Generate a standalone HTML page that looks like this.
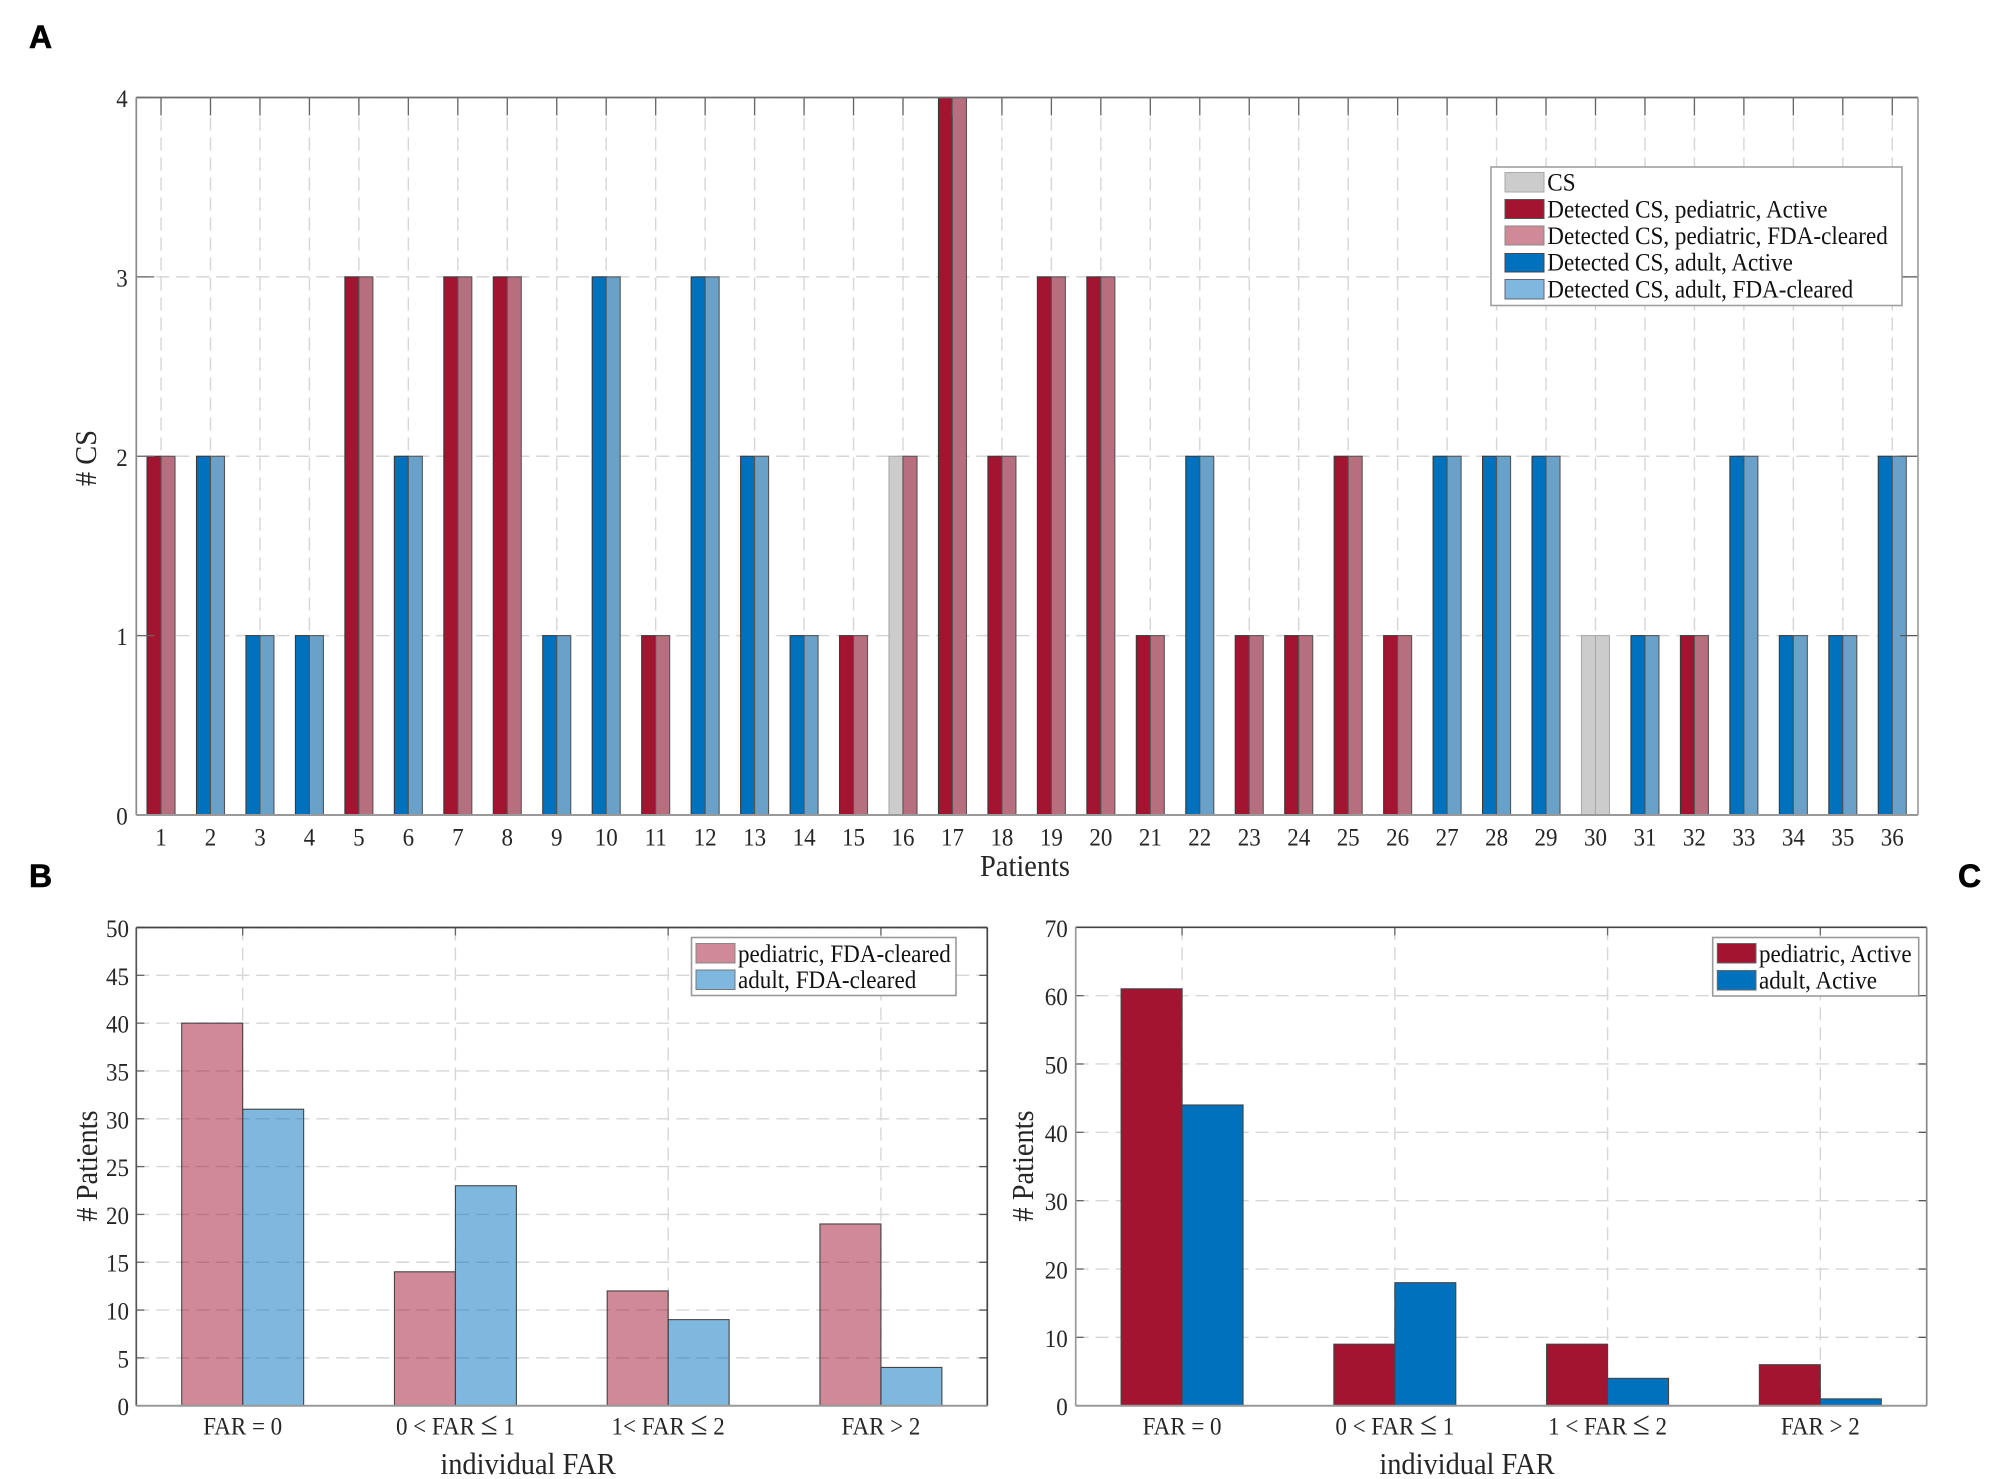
<!DOCTYPE html>
<html lang="en">
<head>
<meta charset="utf-8">
<title>CS detection per patient and individual FAR</title>
<style>
html,body{margin:0;padding:0;background:#fff;}
svg{display:block;font-family:"Liberation Serif","Times New Roman",serif;}
.tk{fill:#262626;font-size:23px;}
.ttl{fill:#262626;font-size:28.4px;text-anchor:middle;}
.lg{fill:#111;font-size:23.1px;}
.letter{font-family:"Liberation Sans",Arial,sans-serif;font-weight:bold;font-size:32px;fill:#000;stroke:#000;stroke-width:.6px;}
</style>
</head>
<body>
<svg id="fig" width="2008" height="1479" viewBox="0 0 2008 1479" xmlns="http://www.w3.org/2000/svg">
  <rect x="0" y="0" width="2008" height="1479" fill="#fff"/>
  <g id="panelA"></g>
  <g id="panelB"></g>
  <g id="panelC"></g>

  <text class="letter" x="29" y="48">A</text>
  <text class="letter" x="29" y="887">B</text>
  <text class="letter" x="1958" y="887">C</text>

  <text class="ttl" transform="translate(96,458) rotate(-90) scale(1,1.08)"># CS</text>
  <text class="ttl" transform="translate(1025,876) scale(1,1.08)">Patients</text>
  <text class="ttl" transform="translate(97,1166) rotate(-90) scale(1,1.08)"># Patients</text>
  <text class="ttl" transform="translate(528,1474) scale(1,1.08)">individual FAR</text>
  <text class="ttl" transform="translate(1033,1166) rotate(-90) scale(1,1.08)"># Patients</text>
  <text class="ttl" transform="translate(1467,1474) scale(1,1.08)">individual FAR</text>

  <g>
    <rect x="1491" y="167" width="411" height="138.5" fill="#fff" stroke="#a0a0a0" stroke-width="1.6"/>
    <rect x="1505" y="172.5" width="39" height="19.5" fill="#cccccc" stroke="#aaa"/>
    <text class="lg" transform="translate(1547.3,190.7) scale(1,1.08)">CS</text>
    <rect x="1505" y="199.5" width="39" height="19" fill="#A2142F" stroke="#555"/>
    <text class="lg" transform="translate(1547.3,217.6) scale(1,1.08)">Detected CS, pediatric, Active</text>
    <rect x="1505" y="226" width="39" height="19" fill="#D08997" stroke="#888"/>
    <text class="lg" transform="translate(1547.3,243.8) scale(1,1.08)">Detected CS, pediatric, FDA-cleared</text>
    <rect x="1505" y="253.5" width="39" height="18.5" fill="#0072BD" stroke="#445"/>
    <text class="lg" transform="translate(1547.3,270.5) scale(1,1.08)">Detected CS, adult, Active</text>
    <rect x="1505" y="279.5" width="39" height="19.5" fill="#7FB8DE" stroke="#667"/>
    <text class="lg" transform="translate(1547.3,297.7) scale(1,1.08)">Detected CS, adult, FDA-cleared</text>
  </g>

  <g>
    <rect x="691.5" y="937.5" width="264.5" height="58" fill="#fff" stroke="#9a9a9a" stroke-width="1.6"/>
    <rect x="696" y="943.5" width="39" height="19.5" fill="#D08997" stroke="#888"/>
    <text class="lg" transform="translate(738,962) scale(1,1.08)">pediatric, FDA-cleared</text>
    <rect x="696" y="970" width="39" height="19.5" fill="#7FB8DE" stroke="#777"/>
    <text class="lg" transform="translate(738,988) scale(1,1.08)">adult, FDA-cleared</text>
  </g>

  <g>
    <rect x="1712.7" y="937.5" width="206" height="58.5" fill="#fff" stroke="#9a9a9a" stroke-width="1.6"/>
    <rect x="1717.3" y="943.5" width="38.7" height="19.5" fill="#A2142F" stroke="#666"/>
    <text class="lg" transform="translate(1759,962) scale(1,1.08)">pediatric, Active</text>
    <rect x="1717.3" y="970.5" width="38.7" height="19.5" fill="#0072BD" stroke="#666"/>
    <text class="lg" transform="translate(1759,988.3) scale(1,1.08)">adult, Active</text>
  </g>
</svg>

<script>
// ---- Panel A data ----
const patients = [1,2,3,4,5,6,7,8,9,10,11,12,13,14,15,16,17,18,19,20,21,22,23,24,25,26,27,28,29,30,31,32,33,34,35,36];
const patientGroup = ['p','a','a','a','p','a','p','p','a','a','p','a','a','a','p','p','p','p','p','p','p','a','p','p','p','p','a','a','a','a','a','p','a','a','a','a'];
const totalCS = [2,2,1,1,3,2,3,3,1,3,1,3,2,1,1,2,4,2,3,3,1,2,1,1,2,1,2,2,2,1,1,1,2,1,1,2];
const detectedActive = [2,2,1,1,3,2,3,3,1,3,1,3,2,1,1,0,4,2,3,3,1,2,1,1,2,1,2,2,2,0,1,1,2,1,1,2];
const detectedFDA = [2,2,1,1,3,2,3,3,1,3,1,3,2,1,1,2,4,2,3,3,1,2,1,1,2,1,2,2,2,0,1,1,2,1,1,2];
const ticksA = [0,1,2,3,4];

// ---- Panel B data ----
const categoriesB = ['FAR = 0','0 < FAR ≤ 1','1< FAR ≤ 2','FAR > 2'];
const pediatricFDA = [40,14,12,19];
const adultFDA = [31,23,9,4];
const ticksB = [0,5,10,15,20,25,30,35,40,45,50];

// ---- Panel C data ----
const categoriesC = ['FAR = 0','0 < FAR ≤ 1','1 < FAR ≤ 2','FAR > 2'];
const pediatricActive = [61,9,9,6];
const adultActive = [44,18,4,1];
const ticksC = [0,10,20,30,40,50,60,70];

const NS = 'http://www.w3.org/2000/svg';

function mk(parent, tag, attrs, name) {
  const e = document.createElementNS(NS, tag);
  for (const k in attrs) e.setAttribute(k, attrs[k]);
  
  
  parent.appendChild(e);
  return e;
}
function line(g, x1, y1, x2, y2, stroke, w, name, dash) {
  const a = {x1:x1, y1:y1, x2:x2, y2:y2, stroke:stroke, 'stroke-width':w};
  if (dash) a['stroke-dasharray'] = dash;
  return mk(g, 'line', a, name);
}
function label(g, x, y, str, anchor, name) {
  const t = mk(g, 'text', {'class':'tk', 'text-anchor':anchor, transform:'translate(' + x + ',' + y + ') scale(1,1.08)'}, name);
  const parts = str.split('≤');
  if (parts.length === 2) {
    t.appendChild(document.createTextNode(parts[0]));
    const s = mk(t, 'tspan', {style:'font-size:31px'}, name + '-less-equal-symbol');
    s.textContent = '≤';
    t.appendChild(document.createTextNode(parts[1]));
  } else {
    t.textContent = str;
  }
  return t;
}

function makeAxes(box, xMin, xMax, yMin, yMax) {
  return {
    box: box,
    x: function (v) { return box.left + (v - xMin) / (xMax - xMin) * (box.right - box.left); },
    y: function (v) { return box.bottom - (v - yMin) / (yMax - yMin) * (box.bottom - box.top); }
  };
}

function drawGrid(g, ax, xPositions, yTicks, panel) {
  const b = ax.box;
  xPositions.forEach(function (v, i) {
    line(g, ax.x(v), b.top, ax.x(v), b.bottom, '#d6d6d6', 1.4, panel + '-vertical-gridline-' + (i + 1), '13 7');
  });
  yTicks.forEach(function (v) {
    if (v === yTicks[0]) return;
    line(g, b.left, ax.y(v), b.right, ax.y(v), '#d6d6d6', 1.4, panel + '-horizontal-gridline-' + v, '13 7');
  });
}

function drawFrame(g, ax, xPositions, xLabels, yTicks, panel, cfg) {
  const b = ax.box;
  xPositions.forEach(function (v, i) {
    line(g, ax.x(v), b.top, ax.x(v), b.top + cfg.tick, '#666', 1.3, panel + '-x-tick-' + (i + 1));
    label(g, ax.x(v), cfg.xLabelY, xLabels[i], 'middle', panel + '-x-tick-label-' + (i + 1));
  });
  yTicks.forEach(function (v) {
    const y = ax.y(v);
    line(g, b.left, y, b.left + cfg.tick, y, '#666', 1.3, panel + '-y-tick-left-' + v);
    line(g, b.right - cfg.tick, y, b.right, y, '#555', 1.3, panel + '-y-tick-right-' + v);
    label(g, cfg.yLabelX, y + 9.5, String(v), 'end', panel + '-y-tick-label-' + v);
  });
  line(g, b.left, b.top, b.right, b.top, cfg.topColor, 1.7, panel + '-axis-top');
  line(g, b.left, b.top, b.left, b.bottom, cfg.leftColor, 1.7, panel + '-axis-left');
  line(g, b.right, b.top, b.right, b.bottom, cfg.rightColor, 1.7, panel + '-axis-right');
  line(g, b.left, b.bottom, b.right, b.bottom, '#999', 2, panel + '-axis-bottom');
}

function drawBar(g, ax, xFrom, xTo, value, fill, stroke, opacity, name) {
  const y = ax.y(value);
  const a = {x: ax.x(xFrom), y: y, width: ax.x(xTo) - ax.x(xFrom), height: ax.y(0) - y, fill: fill, stroke: stroke, 'stroke-width': 1.1};
  if (opacity < 1) a['fill-opacity'] = opacity;
  return mk(g, 'rect', a, name);
}

// ---- Panel A ----
(function () {
  const g = document.getElementById('panelA');
  const ax = makeAxes({left:136.3, right:1918, top:97.5, bottom:815}, 0.5, 36.52, 0, 4);
  const w = 0.283;
  drawGrid(g, ax, patients, ticksA, 'panel-a');
  patients.forEach(function (p, i) {
    const ped = patientGroup[i] === 'p';
    const activeFill = ped ? '#A2142F' : '#0072BD';
    const fdaFill = ped ? '#B76F80' : '#69A1C9';
    if (detectedActive[i] < totalCS[i]) drawBar(g, ax, p - w, p, totalCS[i], '#cccccc', '#aaa', 1, 'bar-total-cs-left-patient-' + p);
    if (detectedFDA[i] < totalCS[i]) drawBar(g, ax, p, p + w, totalCS[i], '#cccccc', '#aaa', 1, 'bar-total-cs-right-patient-' + p);
    if (detectedActive[i] > 0) drawBar(g, ax, p - w, p, detectedActive[i], activeFill, '#3a3a3a', 1, 'bar-active-patient-' + p);
    if (detectedFDA[i] > 0) drawBar(g, ax, p, p + w, detectedFDA[i], fdaFill, '#555', 1, 'bar-fda-cleared-patient-' + p);
  });
  drawFrame(g, ax, patients, patients.map(String), ticksA, 'panel-a', {
    tick:18, xLabelY:845.5, yLabelX:127.7, topColor:'#6e6e6e', leftColor:'#8a8a8a', rightColor:'#a0a0a0'
  });
})();

// ---- Grouped category panels ----
function groupedPanel(id, panel, box, cats, yTicks, s1, s2, c1, c2, opacity, stroke, frame) {
  const g = document.getElementById(id);
  const ax = makeAxes(box, 0.5, cats.length + 0.5, yTicks[0], yTicks[yTicks.length - 1]);
  const w = 0.2866;
  const pos = cats.map(function (c, i) { return i + 1; });
  drawGrid(g, ax, pos, yTicks, panel);
  pos.forEach(function (p, i) {
    drawBar(g, ax, p - w, p, s1[i], c1, stroke, opacity, panel + '-bar-pediatric-' + p);
    drawBar(g, ax, p, p + w, s2[i], c2, stroke, opacity, panel + '-bar-adult-' + p);
  });
  drawFrame(g, ax, pos, cats, yTicks, panel, frame);
}

groupedPanel('panelB', 'panel-b', {left:136.3, right:987.3, top:927.5, bottom:1405.7},
  categoriesB, ticksB, pediatricFDA, adultFDA, '#A2142F', '#0072BD', 0.5, '#444',
  {tick:8, xLabelY:1434.5, yLabelX:129, topColor:'#444', leftColor:'#555', rightColor:'#444'});

groupedPanel('panelC', 'panel-c', {left:1075.7, right:1926.7, top:927.3, bottom:1405.7},
  categoriesC, ticksC, pediatricActive, adultActive, '#A2142F', '#0072BD', 1, '#444',
  {tick:8, xLabelY:1434.5, yLabelX:1067.7, topColor:'#444', leftColor:'#999', rightColor:'#8a8a8a'});

// Keep legends and axis titles above the plotted panels
(function () {
  const fig = document.getElementById('fig');
  ['panelA','panelB','panelC'].reverse().forEach(function (id) {
    fig.insertBefore(document.getElementById(id), fig.children[1]);
  });
})();
</script>
</body>
</html>
